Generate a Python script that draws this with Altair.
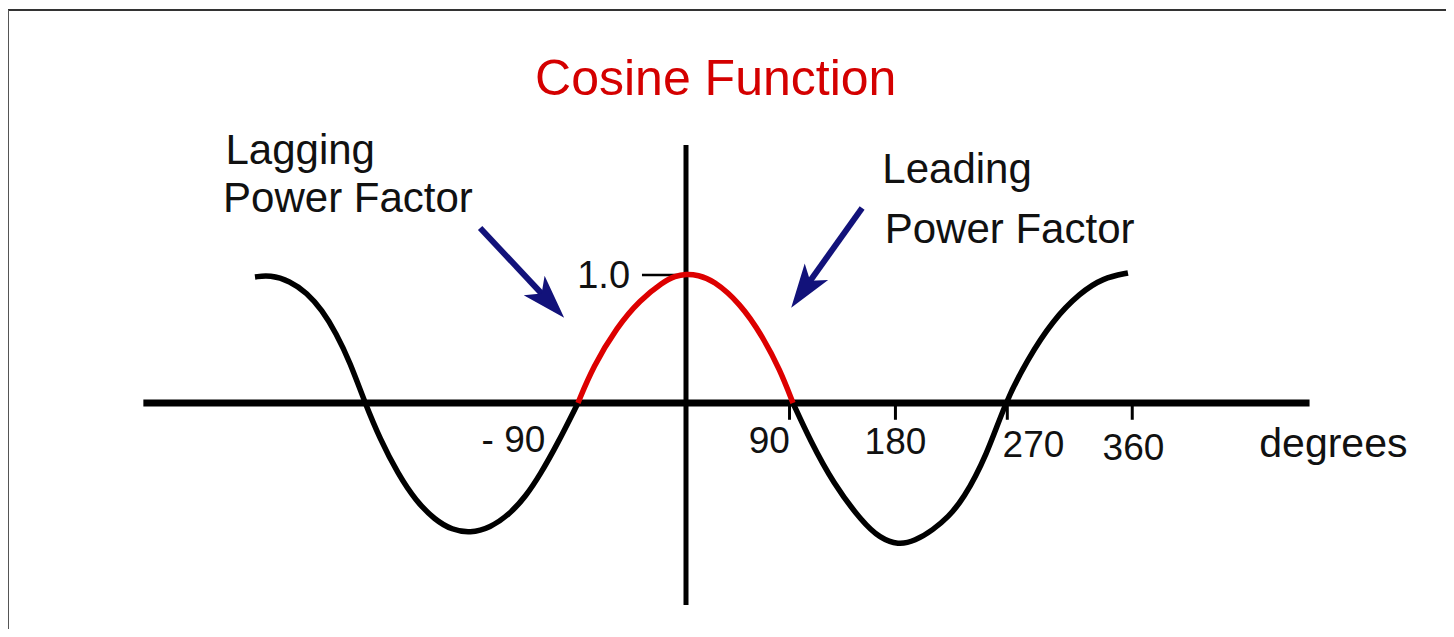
import altair as alt
import pandas as pd

# ---- values (x in degrees, y in cosine units) ----
left_deg = [-362.2, -349.6, -332.8, -318.5, -305.9, -294.1, -282.4, -269.7, -257.1, -242.0,
            -226.9, -210.9, -196.6, -181.5, -164.7, -147.9, -134.5, -122.7, -107.6, -90.8]
left_val = [0.977, 0.992, 0.946, 0.853, 0.721, 0.543, 0.318, 0.0, -0.279, -0.550,
            -0.760, -0.907, -0.984, -1.008, -0.969, -0.860, -0.721, -0.558, -0.310, 0.0]

red_deg = [-90.8, -78.2, -58.0, -38.7, -19.3, -9.2, 0.0, 10.1, 22.7, 45.4, 64.7, 79.0, 89.9]
red_val = [0.0, 0.279, 0.589, 0.798, 0.938, 0.984, 1.0, 0.992, 0.953, 0.775, 0.512, 0.256, 0.0]

right_deg = [89.9, 104.2, 123.5, 148.7, 163.0, 178.2, 192.4, 207.6, 220.2, 232.8, 252.9,
             268.1, 286.6, 308.4, 331.1, 350.4, 371.4]
right_val = [0.0, -0.287, -0.620, -0.930, -1.047, -1.101, -1.070, -0.984, -0.884, -0.752, -0.403,
             0.0, 0.333, 0.643, 0.853, 0.969, 1.008]

# axes extents
haxis_x = [-456, 524]
vaxis_y = [2.0, -1.566]

# drawn tick marks on the degree axis
tick_pos = [87, 176, 270, 375]
tick_depth = -0.13

# tick labels
tick_labels = ["- 90", "90", "180", "270", "360"]
tick_label_x = [-145, 70, 176, 292, 376]
tick_label_y = [-0.38, -0.39, -0.395, -0.42, -0.44]

# y marker "1.0"
one_label_x = [-47]
one_label_y = [0.89]
one_tick_x = [-37, 0]
one_tick_y = [0.992]

# annotation texts
note_text = ["Lagging", "Power Factor", "Leading", "Power Factor"]
note_x = [-387, -389, 165, 167]
note_y = [1.853, 1.481, 1.705, 1.240]

title_text = ["Cosine Function"]
title_x = [25]
title_y = [2.388]

axis_name = ["degrees"]
axis_name_x = [544]
axis_name_y = [-0.42]

# arrows: tail -> head centre, rotation of head
arrow_tail_x = [-173, 148]
arrow_tail_y = [1.357, 1.512]
arrow_head_x = [-115, 99]
arrow_head_y = [0.786, 0.878]
arrow_angle = [137, 215]

# ---- layout ----
W, H = 1438, 621
xs = alt.Scale(domain=[-569.75, 638.66], nice=False, zero=False)
ys = alt.Scale(domain=[-1.752, 3.062], nice=False, zero=False)
FONT = "Liberation Sans"
NAVY = "#12127a"


def X(f="x"):
    return alt.X(f"{f}:Q", scale=xs, axis=None)


def Y(f="y"):
    return alt.Y(f"{f}:Q", scale=ys, axis=None)


one = pd.DataFrame({"a": [0]})

border_top = alt.Chart(one).mark_rule(color="#333333", strokeWidth=2).encode(
    x=alt.value(0), x2=alt.value(W), y=alt.value(2)
)
border_left = alt.Chart(one).mark_rule(color="#555555", strokeWidth=1).encode(
    x=alt.value(0.5), y=alt.value(2), y2=alt.value(H)
)

haxis = alt.Chart(pd.DataFrame({"x": [haxis_x[0]], "x2": [haxis_x[1]], "y": [0]})).mark_rule(
    color="black", strokeWidth=7
).encode(x=X(), x2="x2:Q", y=Y())

vaxis = alt.Chart(pd.DataFrame({"x": [0], "y": [vaxis_y[0]], "y2": [vaxis_y[1]]})).mark_rule(
    color="black", strokeWidth=5
).encode(x=X(), y=Y(), y2="y2:Q")

ticks = alt.Chart(pd.DataFrame({"x": tick_pos, "y": [0] * len(tick_pos),
                                "y2": [tick_depth] * len(tick_pos)})).mark_rule(
    color="black", strokeWidth=3
).encode(x=X(), y=Y(), y2="y2:Q")

one_tick = alt.Chart(pd.DataFrame({"x": [one_tick_x[0]], "x2": [one_tick_x[1]], "y": one_tick_y})).mark_rule(
    color="black", strokeWidth=2.5
).encode(x=X(), x2="x2:Q", y=Y())


def curve(deg, val, color):
    df = pd.DataFrame({"x": deg, "y": val, "o": list(range(len(deg)))})
    return alt.Chart(df).mark_line(color=color, strokeWidth=5.5, interpolate="basis").encode(
        x=X(), y=Y(), order="o:Q"
    )


c_left = curve(left_deg, left_val, "black")
c_right = curve(right_deg, right_val, "black")
c_red = curve(red_deg, red_val, "#dd0000")

arrow_layers = []
for i in range(len(arrow_tail_x)):
    shaft = alt.Chart(pd.DataFrame({"x": [arrow_tail_x[i]], "y": [arrow_tail_y[i]],
                                    "x2": [arrow_head_x[i]], "y2": [arrow_head_y[i]]})).mark_rule(
        color=NAVY, strokeWidth=6
    ).encode(x=X(), y=Y(), x2="x2:Q", y2="y2:Q")
    head = alt.Chart(pd.DataFrame({"x": [arrow_head_x[i]], "y": [arrow_head_y[i]]})).mark_point(
        shape="M0,-1L0.65,1L0,0.5L-0.65,1Z", filled=True, color=NAVY, opacity=1,
        size=1936, angle=arrow_angle[i], strokeWidth=0
    ).encode(x=X(), y=Y())
    arrow_layers += [shaft, head]


def texts(txt, x, y, size, align, color="#111111"):
    df = pd.DataFrame({"x": x, "y": y, "t": txt})
    return alt.Chart(df).mark_text(
        font=FONT, fontSize=size, align=align, baseline="alphabetic", color=color
    ).encode(x=X(), y=Y(), text="t:N")


t_title = texts(title_text, title_x, title_y, 50, "center", "#d40000")
t_notes = texts(note_text, note_x, note_y, 42, "left")
t_ticks = texts(tick_labels, tick_label_x, tick_label_y, 37, "center")
t_one = texts(["1.0"], one_label_x, one_label_y, 38, "right")
t_deg = texts(axis_name, axis_name_x, axis_name_y, 41, "center")

chart = alt.layer(
    border_top, border_left, haxis, vaxis, ticks, one_tick,
    c_left, c_right, c_red, *arrow_layers,
    t_title, t_notes, t_ticks, t_one, t_deg
).properties(
    width=W, height=H, autosize=alt.AutoSizeParams(type="none"), padding=0,
    background="white"
).configure_view(stroke=None)

chart.save("out.html", embed_options={"renderer": "svg", "actions": False})
